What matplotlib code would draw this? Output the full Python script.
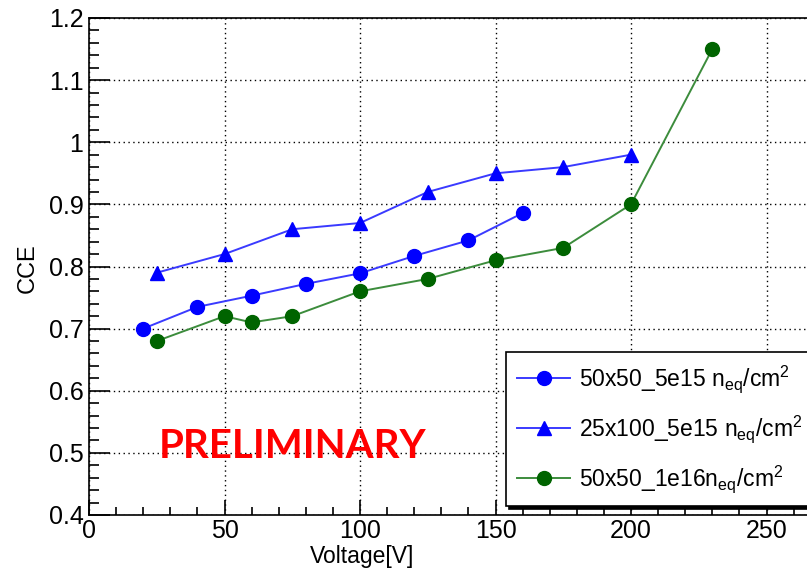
import matplotlib

matplotlib.use("Agg")
import matplotlib.pyplot as plt
from matplotlib.ticker import MultipleLocator

plt.rcParams["font.family"] = ["Liberation Sans", "DejaVu Sans"]
plt.rcParams["mathtext.default"] = "regular"

# 50x50 pixel, 5e15 fluence
v_50x50_5e15 = [20, 40, 60, 80, 100, 120, 140, 160]
cce_50x50_5e15 = [0.700, 0.735, 0.753, 0.772, 0.789, 0.817, 0.842, 0.886]

# 25x100 pixel, 5e15 fluence
v_25x100_5e15 = [25, 50, 75, 100, 125, 150, 175, 200]
cce_25x100_5e15 = [0.790, 0.820, 0.860, 0.870, 0.920, 0.950, 0.960, 0.980]

# 50x50 pixel, 1e16 fluence
v_50x50_1e16 = [25, 50, 60, 75, 100, 125, 150, 175, 200, 230]
cce_50x50_1e16 = [0.680, 0.720, 0.710, 0.720, 0.760, 0.780, 0.810, 0.830, 0.900, 1.150]

labels = [
    "50x50_5e15 n$_{eq}$/cm$^2$",
    "25x100_5e15 n$_{eq}$/cm$^2$",
    "50x50_1e16n$_{eq}$/cm$^2$",
]

W, H = 807, 572
fig = plt.figure(figsize=(W / 100, H / 100), dpi=100)
left, right, top, bottom = 89, 820, 18, 515
ax = fig.add_axes([left / W, 1 - bottom / H, (right - left) / W, (bottom - top) / H])

px_per_unit = 135.5 / 50
ax.set_xlim(0, (right - left) / px_per_unit)
ax.set_ylim(0.4, 1.2)

ax.plot(v_50x50_5e15, cce_50x50_5e15, color="#3a3aff", lw=1.4,
        marker="o", ms=10, mfc="#0000ff", mec="#0000ff", label=labels[0])
ax.plot(v_25x100_5e15, cce_25x100_5e15, color="#3a3aff", lw=1.4,
        marker="^", ms=10, mfc="#0000ff", mec="#0000ff", label=labels[1])
ax.plot(v_50x50_1e16, cce_50x50_1e16, color="#3c8c3c", lw=1.4,
        marker="o", ms=10, mfc="#006400", mec="#006400", label=labels[2])

ax.xaxis.set_major_locator(MultipleLocator(50))
ax.xaxis.set_minor_locator(MultipleLocator(10))
ax.yaxis.set_major_locator(MultipleLocator(0.1))
ax.yaxis.set_minor_locator(MultipleLocator(0.02))
ax.yaxis.set_major_formatter(plt.FuncFormatter(lambda v, _: f"{v:g}"))
ax.tick_params(which="both", direction="in", labelsize=18, width=1.2,
               top=False, right=False)
ax.tick_params(axis="y", which="major", length=15, pad=4)
ax.tick_params(axis="y", which="minor", length=7.5)
ax.tick_params(axis="x", which="major", length=11, pad=3)
ax.tick_params(axis="x", which="minor", length=5.5)
ax.grid(which="major", color="black", ls=(0, (1, 2.5)), lw=1.0)
for s in ax.spines.values():
    s.set_linewidth(1.2)

fig.text(28 / W, 1 - 268 / H, "CCE", rotation=90, ha="center", va="center", fontsize=17)
fig.text(362 / W, 1 - 557 / H, "Voltage[V]", ha="center", va="center", fontsize=16.5)

fig.text(293 / W, 1 - 447 / H, "PRELIMINARY", color="#ff0000", fontsize=29,
         fontweight="bold", family="Lato", ha="center", va="center")

leg = ax.legend(loc="upper left", bbox_to_anchor=(506 / W, 1 - 352 / H),
                bbox_transform=fig.transFigure, fontsize=16.5, frameon=True,
                fancybox=False, shadow={"color": "black", "alpha": 1},
                borderpad=0.5, labelspacing=0.8, handlelength=2.3,
                handletextpad=0.4, borderaxespad=0)
leg.get_frame().set_edgecolor("black")
leg.get_frame().set_linewidth(1.2)

fig.savefig("out.png", dpi=100)
